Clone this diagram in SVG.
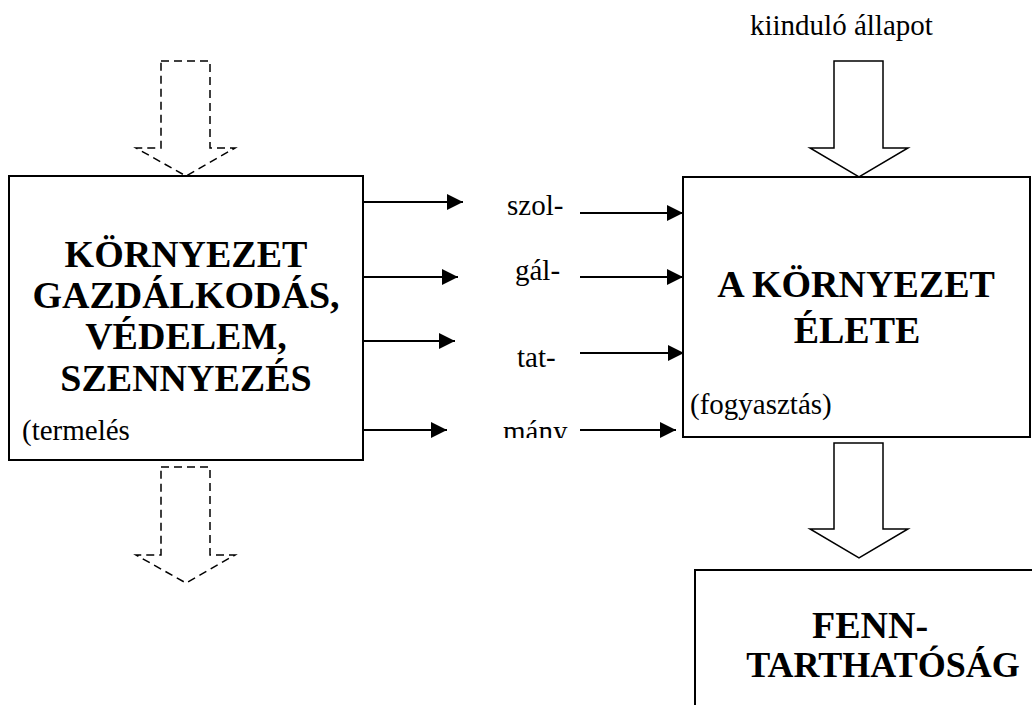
<svg xmlns="http://www.w3.org/2000/svg" width="1032" height="705" viewBox="0 0 1032 705">
<style>
.box{fill:#fff;stroke:#000;stroke-width:2}
.blk{fill:#fff;stroke:#000;stroke-width:1.5;stroke-linejoin:miter}
.dash{fill:none;stroke:#000;stroke-width:1.5;stroke-dasharray:8 5}
.ln{stroke:#000;stroke-width:2;fill:none}
.b{font-family:"Liberation Serif","Times New Roman",serif;font-weight:bold;font-size:38px;fill:#000;text-anchor:middle}
.r{font-family:"Liberation Serif","Times New Roman",serif;font-size:29px;fill:#000}
</style>
<defs>
<marker id="ah" markerUnits="userSpaceOnUse" markerWidth="16" markerHeight="16" viewBox="0 0 16 16" refX="16" refY="8" orient="auto">
<path d="M0,0 L16,8 L0,16 Z" fill="#000"/>
</marker>
<clipPath id="clipMany"><rect x="480" y="400" width="120" height="38"/></clipPath>
</defs>
<rect width="1032" height="705" fill="#fff"/>
<g id="connectors">
<polygon class="dash" points="161,61 210,61 210,148 235,148 186,176 136,148 161,148"/>
<polygon class="dash" points="161,467 210,467 210,555 235,555 186,583 136,555 161,555"/>
<polygon class="blk" points="834,61 883,61 883,148 908,148 859,177 810,148 834,148"/>
<polygon class="blk" points="834,443 883,443 883,529 908,529 859,558 810,529 834,529"/>
<line class="ln" x1="363" y1="202" x2="463" y2="202" marker-end="url(#ah)"/>
<line class="ln" x1="363" y1="277" x2="458" y2="277" marker-end="url(#ah)"/>
<line class="ln" x1="363" y1="341" x2="455" y2="341" marker-end="url(#ah)"/>
<line class="ln" x1="363" y1="430" x2="447" y2="430" marker-end="url(#ah)"/>
<line class="ln" x1="580" y1="213" x2="683" y2="213" marker-end="url(#ah)"/>
<line class="ln" x1="580" y1="277" x2="683" y2="277" marker-end="url(#ah)"/>
<line class="ln" x1="580" y1="353" x2="684" y2="353" marker-end="url(#ah)"/>
<line class="ln" x1="580" y1="430" x2="676" y2="430" marker-end="url(#ah)"/>
</g>
<g id="node-kornyezet">
<rect class="box" x="9" y="176" width="354" height="284"/>
<text class="b" x="186" y="267">KÖRNYEZET</text>
<text class="b" x="186" y="308">GAZDÁLKODÁS,</text>
<text class="b" x="186" y="349">VÉDELEM,</text>
<text class="b" x="186" y="391">SZENNYEZÉS</text>
<text class="r" x="22" y="440">(termelés</text>
</g>
<g id="node-elete">
<rect class="box" x="683" y="177" width="347" height="260"/>
<text class="b" x="856" y="297">A KÖRNYEZET</text>
<text class="b" x="857" y="343">ÉLETE</text>
<text class="r" x="690" y="414">(fogyasztás)</text>
</g>
<g id="node-fenntarthatosag">
<rect class="box" x="695" y="570" width="400" height="200"/>
<text class="b" x="870" y="638">FENN-</text>
<text class="b" x="883" y="677" style="font-size:36px">TARTHATÓSÁG</text>
</g>
<g id="labels">
<text class="r" x="750" y="35">kiinduló állapot</text>
<text class="r" x="507" y="215">szol-</text>
<text class="r" x="515" y="280">gál-</text>
<text class="r" x="517" y="367">tat-</text>
<text class="r" x="503" y="441" clip-path="url(#clipMany)">mány</text>
</g>
</svg>
